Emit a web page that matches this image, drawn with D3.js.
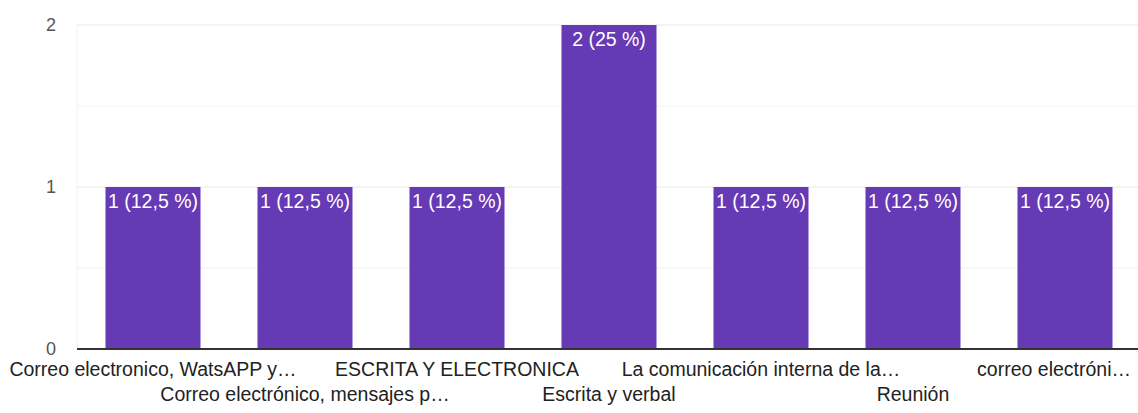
<!DOCTYPE html>
<html><head><meta charset="utf-8">
<script src="https://cdn.jsdelivr.net/npm/d3@7"></script>
<style>body{margin:0;background:#fff}svg{display:block;font-family:"Liberation Sans",Arial,sans-serif}</style>
</head><body><svg id="c" width="1138" height="413"></svg>
<script>
const categories = ["Correo electronico, WatsAPP y…","Correo electrónico, mensajes p…","ESCRITA Y ELECTRONICA","Escrita y verbal","La comunicación interna de la…","Reunión","correo electróni…"];
const values = [1,1,1,2,1,1,1];
const valueLabels = ["1 (12,5 %)","1 (12,5 %)","1 (12,5 %)","2 (25 %)","1 (12,5 %)","1 (12,5 %)","1 (12,5 %)"];
const yTicks = [0,1,2];
const yMinorTicks = [0.5,1.5];

(function(){
const svg = d3.select("#c");
const mLeft = 77, mRight = 1141, mTop = 25, mBottom = 349;
const x = d3.scaleBand().domain(categories).range([mLeft, mRight]).paddingInner(0.375).paddingOuter(0.1875);
const y = d3.scaleLinear().domain([0,2]).range([mBottom, mTop]);
const fs = 19.5;

svg.selectAll(".mg").data(yMinorTicks).join("line")
  .attr("x1", mLeft).attr("x2", 1138).attr("y1", d=>y(d)).attr("y2", d=>y(d))
  .attr("stroke", "#f2f2f2").attr("stroke-width", 1);
svg.selectAll(".g").data(yTicks.filter(d=>d>0)).join("line")
  .attr("x1", mLeft).attr("x2", 1138).attr("y1", d=>y(d)).attr("y2", d=>y(d))
  .attr("stroke", "#e8e8e8").attr("stroke-width", 1);
svg.append("line").attr("x1", mLeft).attr("x2", mLeft).attr("y1", mTop).attr("y2", mBottom)
  .attr("stroke", "#f2f2f2");

svg.selectAll(".bar").data(categories).join("rect")
  .attr("x", d=>x(d)).attr("width", x.bandwidth())
  .attr("y", (d,i)=>y(values[i])).attr("height", (d,i)=>y(0)-y(values[i]))
  .attr("fill", "#6639b5");

svg.selectAll(".vl").data(categories).join("text")
  .attr("x", d=>x(d)+x.bandwidth()/2).attr("y", (d,i)=>y(values[i])+21)
  .attr("text-anchor","middle")
  .attr("fill", "#ffffff").attr("font-size", fs).text((d,i)=>valueLabels[i]);

svg.append("line").attr("x1", mLeft).attr("x2", 1138).attr("y1", y(0)).attr("y2", y(0))
  .attr("stroke", "#333").attr("stroke-width", 2);

svg.selectAll(".yt").data(yTicks).join("text")
  .attr("x", 56).attr("y", d=>y(d)+6).attr("text-anchor","end")
  .attr("font-size", 18).attr("fill", "#555").text(d=>d);

const xl = svg.selectAll(".xl").data(categories).join("text")
  .attr("x", d=>x(d)+x.bandwidth()/2)
  .attr("y", (d,i)=> i%2===0 ? 376 : 401)
  .attr("text-anchor","middle").attr("font-size", fs).attr("fill", "#222")
  .text(d=>d);
xl.each(function(){
  const w = this.getComputedTextLength();
  const cx = +this.getAttribute("x");
  const maxRight = 1131, minLeft = 3;
  let nx = cx;
  if (cx + w/2 > maxRight) nx = maxRight - w/2;
  if (nx - w/2 < minLeft) nx = minLeft + w/2;
  this.setAttribute("x", nx);
});
})();
</script></body></html>
